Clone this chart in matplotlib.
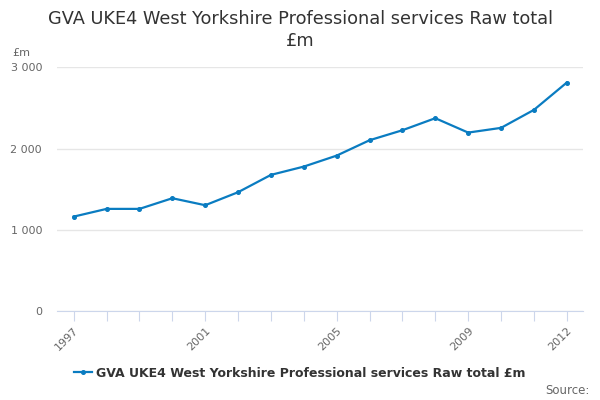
import matplotlib
matplotlib.use('Agg')
import matplotlib.pyplot as plt
from matplotlib.lines import Line2D
from matplotlib.ticker import FuncFormatter

# Data
years = [1997, 1998, 1999, 2000, 2001, 2002, 2003, 2004,
         2005, 2006, 2007, 2008, 2009, 2010, 2011, 2012]
values = [1163, 1258, 1258, 1389, 1303, 1463, 1676, 1778,
          1913, 2102, 2225, 2373, 2196, 2254, 2475, 2811]
label_years = [1997, 2001, 2005, 2009, 2012]
y_ticks = [0, 1000, 2000, 3000]
series_name = 'GVA UKE4 West Yorkshire Professional services Raw total £m'

line_color = '#0a7cc1'
text_gray = '#666666'

fig = plt.figure(figsize=(6, 4), dpi=100)
ax = fig.add_axes([0.0955, 0.222, 0.8765, 0.61])

ax.plot(years, values, color=line_color, linewidth=1.6, marker='o', markersize=2.6)

ax.set_xlim(1996.5, 2012.5)
ax.set_ylim(0, 3000)

# y axis: gridlines only, labels with space as thousands separator
ax.set_yticks(y_ticks)
ax.yaxis.set_major_formatter(FuncFormatter(lambda v, p: f'{int(v):,}'.replace(',', ' ')))
ax.grid(axis='y', color='#e6e6e6', linewidth=1)
ax.set_axisbelow(True)
ax.tick_params(axis='y', length=0, labelsize=8, labelcolor=text_gray, pad=11)

# x axis: tick on every year, label on a few
ax.set_xticks(years)
ax.set_xticklabels([str(y) if y in label_years else '' for y in years],
                   rotation=45, ha='right', rotation_mode='anchor')
ax.tick_params(axis='x', length=7, color='#ccd6eb', labelsize=8,
               labelcolor=text_gray, pad=3)

for side in ['top', 'right', 'left']:
    ax.spines[side].set_visible(False)
ax.spines['bottom'].set_color('#ccd6eb')

fig.text(0.02, 0.86, '£m', fontsize=8, color=text_gray)
fig.suptitle('GVA UKE4 West Yorkshire Professional services Raw total\n£m',
             x=0.5, y=0.975, fontsize=12.8, color='#333333', linespacing=1.25)

handle = Line2D([], [], color=line_color, linewidth=1.6, marker='o', markersize=2.6)
leg = fig.legend([handle], [series_name], loc='center', bbox_to_anchor=(0.5, 0.067),
                 frameon=False, handlelength=1.4, handletextpad=0.4,
                 prop={'size': 9, 'weight': 'bold'})
for t in leg.get_texts():
    t.set_color('#333333')

fig.text(0.982, 0.014, 'Source:', fontsize=8.5, color=text_gray, ha='right')

fig.savefig('out.png', dpi=100)
